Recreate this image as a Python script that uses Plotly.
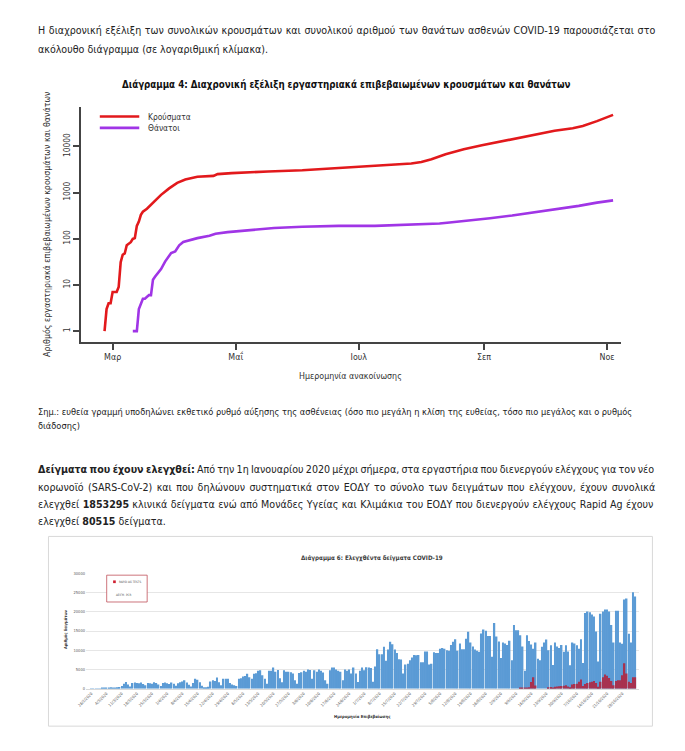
import plotly.graph_objects as go
import pandas as pd

W, H = 685, 751
def px(x): return x / W
def py(y): return 1 - y / H

TXT = "DejaVu Sans Condensed, DejaVu Sans, sans-serif"

# ---------------- Chart 1 data ----------------
case_dates = ["2020-02-26","2020-02-27","2020-02-28","2020-02-29","2020-03-01","2020-03-03",
              "2020-03-04","2020-03-05","2020-03-06","2020-03-07","2020-03-08","2020-03-10",
              "2020-03-11","2020-03-12","2020-03-13","2020-03-14","2020-03-15","2020-03-16",
              "2020-03-18","2020-03-20","2020-03-22","2020-03-25","2020-03-29","2020-04-02",
              "2020-04-06","2020-04-12","2020-04-20","2020-04-22","2020-04-29","2020-05-08",
              "2020-05-17","2020-06-03","2020-06-21","2020-07-05","2020-07-14","2020-07-27",
              "2020-08-01","2020-08-06","2020-08-13","2020-08-22","2020-08-31","2020-09-09",
              "2020-09-18","2020-09-27","2020-10-06","2020-10-15","2020-10-20","2020-10-27",
              "2020-11-04"]
case_counts = [1, 3, 4, 4, 7, 7, 9, 31, 45, 48, 72, 84, 99, 103, 190, 235, 330, 385,
               445, 540, 690, 890, 1230, 1620, 1910, 2190, 2290, 2500, 2630, 2760,
               2850, 3030, 3380, 3600, 3890, 4250, 4600, 5270, 6750, 8660, 10500, 12600,
               15400, 18500, 21800, 24700, 27500, 35100, 48000]

death_dates = ["2020-03-11","2020-03-13","2020-03-14","2020-03-15","2020-03-16","2020-03-17",
               "2020-03-19","2020-03-20","2020-03-21","2020-03-22","2020-03-25","2020-03-27",
               "2020-03-30","2020-04-01","2020-04-03","2020-04-05","2020-04-09","2020-04-12",
               "2020-04-18","2020-04-21","2020-04-27","2020-05-02","2020-05-11","2020-05-20",
               "2020-06-03","2020-06-21","2020-07-09","2020-07-18","2020-07-27","2020-08-10",
               "2020-08-15","2020-08-26","2020-09-04","2020-09-15","2020-09-27","2020-10-09",
               "2020-10-18","2020-10-27","2020-11-04"]
death_counts = [1, 1, 3, 4, 5, 5, 6, 6, 13, 15, 22, 32, 49, 53, 72, 85, 95, 103,
                116, 128, 139, 146, 156, 170, 181, 190, 190, 196, 203, 213,
                225, 248, 278, 318, 380, 442, 514, 605, 675]

month_ticks = ["2020-03-01", "2020-05-01", "2020-07-01", "2020-09-01", "2020-11-01"]
month_labels = ["Μαρ", "Μαΐ", "Ιουλ", "Σεπ", "Νοε"]
log_ticks = [1, 10, 100, 1000, 10000]
log_labels = ["1", "10", "100", "1000", "10000"]

# ---------------- Chart 2 data ----------------
tests_start = "2020-02-26"
pcr_tests = [
    30, 40, 60, 50, 40, 70, 90,
    200, 300, 350, 250, 200, 400, 450,
    700, 1300, 1750, 1100, 600, 1500, 1600,
    1500, 1400, 1600, 1200, 900, 1500, 1400,
    1300, 1700, 1500, 1100, 700, 1500, 1600,
    1400, 1200, 1600, 1300, 800, 1400, 1700,
    1900, 2200, 1600, 1000, 600, 1500, 2600,
    2300, 1700, 800, 400, 350, 500, 1900,
    2200, 2000, 2900, 1700, 900, 2600, 2600,
    2600, 1500, 1100, 900, 700, 2600, 2700,
    3200, 3300, 3900, 3000, 2600, 3900, 4000,
    4700, 4800, 3500, 2600, 1300, 4650, 4700,
    5500, 4400, 4900, 2700, 1700, 4800, 4400,
    4400, 4300, 3950, 2200, 1300, 4100, 4300,
    4700, 4400, 5000, 4900, 2600, 4800, 4400,
    5000, 4650, 4200, 2200, 1300, 4800, 5500,
    5500, 5000, 4650, 4400, 2200, 5000, 4650,
    5000, 3950, 5500, 3950, 1750, 4700, 5500,
    4800, 5600, 5500, 5400, 1800, 5800, 10250,
    9000, 9000, 10900, 7300, 10200, 12200, 11600,
    10200, 9300, 7700, 7600, 3950, 6300, 6500,
    7400, 8100, 8800, 8700, 8800, 6900, 6900,
    9700, 9700, 6300, 6500, 9500, 9300, 9300,
    10400, 10600, 10400, 10000, 9900, 11400, 12200,
    12900, 9900, 11800, 10300, 10300, 13000, 14800,
    12000, 11000, 10200, 9900, 9600, 14400, 15400,
    15100, 13700, 13700, 8300, 17100, 13600, 12300,
    8000, 12000, 11800, 11400, 12500, 7400, 16600,
    15200, 15200, 13900, 11000, 4700, 13900, 12400,
    11500, 10400, 12000, 7800, 7400, 10900, 12000,
    12800, 10000, 11300, 6200, 12000, 11000, 10600,
    11400, 9600, 11300, 9700, 6100, 12000, 11800,
    11300, 10400, 12900, 6700, 19700, 20100, 19900,
    19300, 18800, 14900, 7100, 19500, 20100, 20600,
    20600, 20100, 16600, 12000, 20300, 20300, 12000,
    11700, 23200, 23500, 14300, 12000, 25100, 24000,
]
rapid_start = "2020-09-11"
rapid_ag_tests = [
    150, 250, 100, 300, 350, 1750, 3000,
    850, 0, 0, 0, 0, 0, 400,
    450, 200, 500, 600, 650, 700, 800,
    900, 600, 400, 1100, 1200, 1300, 1800,
    2400, 700, 1200, 1500, 1700, 1800, 2000,
    1500, 500, 1800, 3000, 3700, 3400, 2800,
    2000, 900, 2000, 2200, 2200, 3500, 6600,
    3950, 1800, 1500, 3000, 3000,
]
week_ticks = pd.date_range(tests_start, "2020-10-28", freq="7D")
y2_ticks = [0, 5000, 10000, 15000, 20000, 25000, 30000]
y2_labels = ["0", "5000", "10000", "15000", "20000", "25000", "30000"]

pcr_dates = pd.date_range(tests_start, periods=len(pcr_tests))
rapid_dates = pd.date_range(rapid_start, periods=len(rapid_ag_tests))

fig = go.Figure()
fig.add_trace(go.Scatter(x=case_dates, y=case_counts, mode="lines",
                         line=dict(color="#e2191c", width=2.6), xaxis="x", yaxis="y",
                         showlegend=False))
fig.add_trace(go.Scatter(x=death_dates, y=death_counts, mode="lines",
                         line=dict(color="#a035e6", width=2.6), xaxis="x", yaxis="y",
                         showlegend=False))
DAY = 86400000
fig.add_trace(go.Bar(x=pcr_dates, y=pcr_tests, marker=dict(color="#5b9bd5", line=dict(width=0)),
                     width=0.68 * DAY, xaxis="x2", yaxis="y2", showlegend=False))
fig.add_trace(go.Bar(x=rapid_dates, y=rapid_ag_tests, marker=dict(color="#a8324f", line=dict(width=0)),
                     width=0.68 * DAY, xaxis="x2", yaxis="y2", showlegend=False))

x1_left = pd.Timestamp("2020-03-01") - pd.Timedelta(days=15.65)
x1_right = pd.Timestamp("2020-11-01") + pd.Timedelta(days=6.85)
x2_left = pd.Timestamp(tests_start) - pd.Timedelta(days=2.5)
x2_right = pd.Timestamp(tests_start) + pd.Timedelta(days=252.5)

fig.update_layout(
    width=W, height=H, margin=dict(l=0, r=0, t=0, b=0),
    paper_bgcolor="white", plot_bgcolor="white", barmode="overlay",
    font=dict(family=TXT, color="#222"),
    xaxis=dict(domain=[px(73), px(620)], range=[x1_left, x1_right], type="date",
               tickvals=month_ticks, ticktext=month_labels, showgrid=False, zeroline=False,
               showline=True, linecolor="#444", linewidth=2, ticks="outside", ticklen=6,
               tickwidth=1.5, tickcolor="#444", tickfont=dict(size=8.8, color="#333", family=TXT),
               anchor="y"),
    yaxis=dict(domain=[py(341), py(105)], type="log", range=[-0.23, 4.845],
               tickvals=log_ticks, ticktext=log_labels, tickangle=-90, showgrid=False,
               zeroline=False, showline=True, linecolor="#444", linewidth=2, ticks="outside",
               ticklen=6, tickwidth=1.5, tickcolor="#444",
               tickfont=dict(size=8.4, color="#333", family=TXT), anchor="x"),
    xaxis2=dict(domain=[px(78), px(638)], range=[x2_left, x2_right], type="date",
                tickvals=week_ticks, tickformat="%-d/%-m/%Y", tickangle=-45,
                showgrid=False, zeroline=False, showline=True, linecolor="#d9d9d9",
                linewidth=1, ticks="", tickfont=dict(size=4.0, color="#595959", family=TXT),
                anchor="y2"),
    yaxis2=dict(domain=[py(690.3), py(574.3)], range=[0, 30000], tickvals=y2_ticks,
                ticktext=y2_labels,
                showgrid=True, gridcolor="#e6e6e6", gridwidth=0.8, zeroline=False,
                showline=False, ticks="", tickfont=dict(size=4.0, color="#595959", family=TXT),
                anchor="x2"),
)

ann = []
def text(x, y, s, size, color="#222", anchor="left", bold=False, angle=0, family=TXT, ws=None):
    if bold:
        s = "<b>" + s + "</b>"
    if ws is not None:
        s = '<span style="word-spacing:%.2fpx">%s</span>' % (ws, s)
    ann.append(dict(x=px(x), y=py(y), xref="paper", yref="paper", text=s, showarrow=False,
                    xanchor=anchor, yanchor="middle", textangle=angle,
                    font=dict(size=size, color=color, family=family)))

L = 27
P = 10.6
text(L, 27, "Η διαχρονική εξέλιξη των συνολικών κρουσμάτων και συνολικού αριθμού των θανάτων ασθενών COVID-19 παρουσιάζεται στο", P, ws=0.6)
text(L, 46, "ακόλουθο διάγραμμα (σε λογαριθμική κλίμακα).", P)
text(341, 82, "Διάγραμμα 4: Διαχρονική εξέλιξη εργαστηριακά επιβεβαιωμένων κρουσμάτων και θανάτων",
     9.7, color="#111", anchor="center", bold=True)
text(38, 223, "Αριθμός εργαστηριακά επιβεβαιωμένων κρουσμάτων και θανάτων", 8.8,
     color="#333", anchor="center", angle=-90)
text(346, 375, "Ημερομηνία ανακοίνωσης", 8.8, color="#333", anchor="center")
text(139, 114.3, "Κρούσματα", 8.4, color="#333")
text(139, 125.7, "Θάνατοι", 8.4, color="#333")
N = 9.2
text(L, 411, "Σημ.: ευθεία γραμμή υποδηλώνει εκθετικό ρυθμό αύξησης της ασθένειας (όσο πιο μεγάλη η κλίση της ευθείας, τόσο πιο μεγάλος και ο ρυθμός", N)
text(L, 425.5, "διάδοσης)", N)
text(L, 469, "<b>Δείγματα που έχουν ελεγχθεί:</b> Από την 1η Ιανουαρίου 2020 μέχρι σήμερα, στα εργαστήρια που διενεργούν ελέγχους για τον νέο", P, ws=-0.8)
text(L, 487, "κορωνοϊό (SARS-CoV-2) και που δηλώνουν συστηματικά στον ΕΟΔΥ το σύνολο των δειγμάτων που ελέγχουν, έχουν συνολικά", P, ws=1.35)
text(L, 504, "ελεγχθεί <b>1853295</b> κλινικά δείγματα ενώ από Μονάδες Υγείας και Κλιμάκια του ΕΟΔΥ που διενεργούν ελέγχους Rapid Ag έχουν", P, ws=0.3)
text(L, 521, "ελεγχθεί <b>80515</b> δείγματα.", P)
text(368, 559, "Διάγραμμα 6: Ελεγχθέντα δείγματα COVID-19", 6.2, color="#404040", anchor="center", bold=True)
text(58, 630, "Αριθμός δειγμάτων", 4.0, color="#333", anchor="center", angle=-90, bold=True)
text(358, 718, "Ημερομηνία Επιβεβαίωσης", 4.2, color="#333", anchor="center", bold=True)
text(109, 582.7, "RAPID AG TESTS", 3.0, color="#555")
text(106, 596, "ΔΕΙΓΜ. PCR", 3.0, color="#555")
fig.update_layout(annotations=ann)

shapes = [
    dict(type="line", xref="paper", yref="paper", x0=px(92), x1=px(132), y0=py(114.3), y1=py(114.3),
         line=dict(color="#e2191c", width=2.6)),
    dict(type="line", xref="paper", yref="paper", x0=px(92), x1=px(132), y0=py(125.7), y1=py(125.7),
         line=dict(color="#a035e6", width=2.6)),
    dict(type="rect", xref="paper", yref="paper", x0=px(40), x1=px(652), y0=py(728), y1=py(537),
         line=dict(color="#d9d9d9", width=1)),
    dict(type="rect", xref="paper", yref="paper", x0=px(99), x1=px(140), y0=py(603), y1=py(576),
         line=dict(color="#c0505a", width=0.8), fillcolor="white"),
    dict(type="rect", xref="paper", yref="paper", x0=px(105.5), x1=px(108.2), y0=py(584), y1=py(581.3),
         line=dict(width=0), fillcolor="#d01f30"),
]
fig.update_layout(shapes=shapes)

fig.write_html("out.html", config={"responsive": False, "displayModeBar": False},
               post_script="document.body.style.margin='0px';document.body.style.overflow='hidden';")
